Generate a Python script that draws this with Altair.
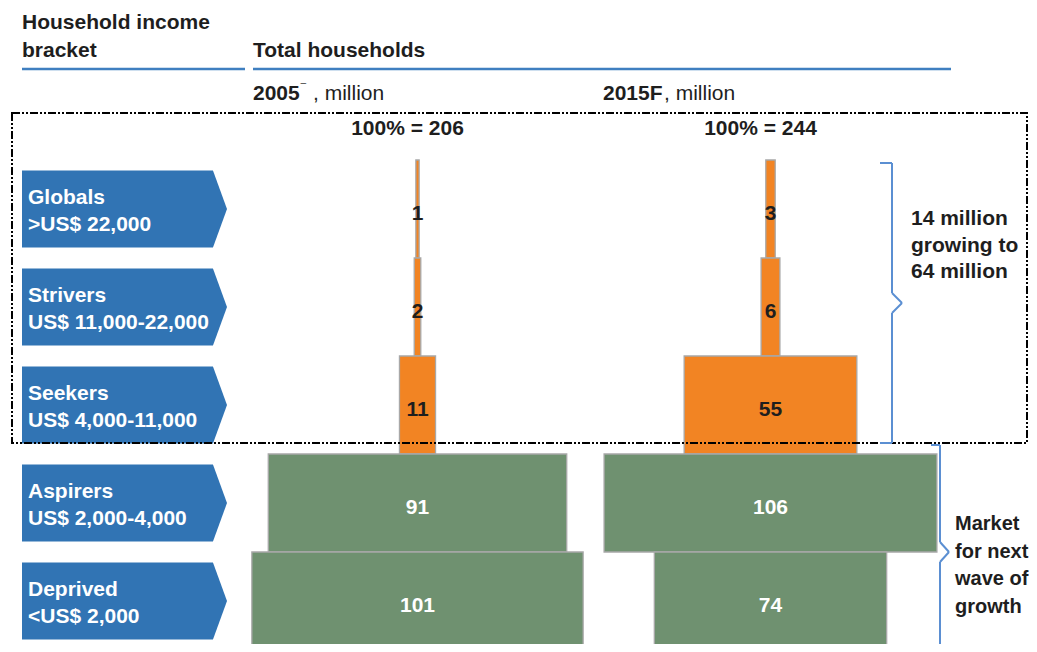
import altair as alt
import pandas as pd

# ---------------- data ----------------
brackets = ["Globals", "Strivers", "Seekers", "Aspirers", "Deprived"]
income_ranges = [">US$ 22,000", "US$ 11,000-22,000", "US$ 4,000-11,000",
                 "US$ 2,000-4,000", "<US$ 2,000"]
households_2005 = [1, 2, 11, 91, 101]
households_2015 = [3, 6, 55, 106, 74]
segment = ["upper", "upper", "upper", "mass", "mass"]

# ---------------- style / layout ----------------
FONT = "Liberation Sans"
FS = 21
DARK = "#1e1e1e"
ORANGE = "#f28423"
GREEN = "#6f9170"
BLUE = "#3174b4"
LINE_BLUE = "#3f7fc0"
BRACE_BLUE = "#5b8fd2"

W, H = 1021, 636
M = 8


def px(v):
    return v - M


ROW_TOP, ROW_H = 160, 98
d0 = -(ROW_TOP - M) / ROW_H
d1 = d0 + H / ROW_H
ysc = alt.Scale(domain=[d0, d1], reverse=True, zero=False, nice=False)

rows = pd.DataFrame({"bracket": brackets, "range": income_ranges,
                     "row": list(range(len(brackets))), "segment": segment})
one = pd.DataFrame({"k": [0]})


def column(values, center_page, px_per_unit):
    c = px(center_page)
    sc = alt.Scale(domain=[-c / px_per_unit, (W - c) / px_per_unit],
                   zero=False, nice=False)
    df = rows.assign(v=values)
    base = alt.Chart(df).transform_calculate(
        x0="-datum.v/2", x1="datum.v/2", top="datum.row",
        bot="datum.row+1", mid="datum.row+0.5", z="0")
    bars = base.mark_rect(stroke="#a8a8a8", strokeWidth=1.3).encode(
        x=alt.X("x0:Q", scale=sc, axis=None), x2="x1:Q",
        y=alt.Y("top:Q", scale=ysc, axis=None), y2="bot:Q",
        color=alt.Color("segment:N",
                        scale=alt.Scale(domain=["upper", "mass"],
                                        range=[ORANGE, GREEN]),
                        legend=None))
    labels = base.mark_text(font=FONT, fontSize=FS, fontWeight="bold",
                            baseline="alphabetic", dy=11).encode(
        x=alt.X("z:Q", scale=sc, axis=None),
        y=alt.Y("mid:Q", scale=ysc, axis=None),
        text="v:Q",
        color=alt.condition(alt.datum.segment == "mass",
                            alt.value("white"), alt.value(DARK)))
    total = alt.Chart(df).transform_aggregate(total="sum(v)").transform_calculate(
        lbl="'100% = ' + datum.total", z="0").mark_text(
        font=FONT, fontSize=FS, fontWeight="bold", baseline="alphabetic",
        color=DARK, dx=-10).encode(
        x=alt.X("z:Q", scale=sc, axis=None),
        y=alt.value(px(135)),
        text="lbl:N")
    return alt.layer(bars, labels, total)


col05 = column(households_2005, 417.5, 3.28)
col15 = column(households_2015, 770.5, 3.14)

# pentagon labels on the left
PENT = "M-1,-0.3756L0.863,-0.3756L1,0L0.863,0.3756L-1,0.3756Z"
rows_mid = alt.Chart(rows).transform_calculate(mid="datum.row+0.5")
pent = rows_mid.mark_point(shape=PENT, size=205 ** 2, filled=True,
                           fill=BLUE, opacity=1, strokeWidth=0).encode(
    x=alt.value(px(124.5)), y=alt.Y("mid:Q", scale=ysc, axis=None))
pent_name = rows_mid.mark_text(font=FONT, fontSize=FS, fontWeight="bold",
                               color="white", align="left",
                               baseline="alphabetic", dy=-5).encode(
    x=alt.value(px(28)), y=alt.Y("mid:Q", scale=ysc, axis=None),
    text="bracket:N")
pent_range = rows_mid.mark_text(font=FONT, fontSize=FS, fontWeight="bold",
                                color="white", align="left",
                                baseline="alphabetic", dy=22).encode(
    x=alt.value(px(28)), y=alt.Y("mid:Q", scale=ysc, axis=None),
    text="range:N")


def seg(x1, y1, x2, y2, color, width):
    return alt.Chart(one).mark_rule(color=color, strokeWidth=width).encode(
        x=alt.value(px(x1)), y=alt.value(px(y1)),
        x2=alt.value(px(x2)), y2=alt.value(px(y2)))


def txt(s, x, y, size=FS, bold=True, color=DARK, align="left", line_height=None):
    kw = dict(text=s, font=FONT, fontSize=size,
              fontWeight="bold" if bold else "normal", color=color,
              align=align, baseline="alphabetic")
    if line_height:
        kw.update(lineBreak="\n", lineHeight=line_height)
    return alt.Chart(one).mark_text(**kw).encode(
        x=alt.value(px(x)), y=alt.value(px(y)))


box = alt.Chart(one).mark_rect(fill="white", fillOpacity=0, stroke="black",
                               strokeWidth=2,
                               strokeDash=[8, 2, 2, 2, 2, 2]).encode(
    x=alt.value(px(12)), x2=alt.value(px(1027)),
    y=alt.value(px(113)), y2=alt.value(px(443)))

decor = [
    txt("Household income", 22, 29),
    txt("bracket", 22, 57),
    txt("Total households", 253, 57),
    seg(22, 69, 245, 69, LINE_BLUE, 2.5),
    seg(253, 69, 951, 69, LINE_BLUE, 2.5),
    txt("2005", 253, 100),
    txt("‾", 301, 95, size=14, bold=False, color="#555555"),
    txt(", million", 313, 100, bold=False),
    txt("2015F", 603, 100),
    txt(", million", 664, 100, bold=False),
    box,
    # upper brace
    seg(880, 163, 892, 163, BRACE_BLUE, 2),
    seg(892, 163, 892, 293, BRACE_BLUE, 2),
    seg(892, 293, 902, 303, BRACE_BLUE, 2),
    seg(902, 303, 892, 313, BRACE_BLUE, 2),
    seg(892, 313, 892, 443, BRACE_BLUE, 2),
    seg(880, 443, 892, 443, BRACE_BLUE, 2),
    # lower brace
    seg(931, 445, 940, 445, BRACE_BLUE, 2),
    seg(940, 445, 940, 542, BRACE_BLUE, 2),
    seg(940, 542, 949, 552, BRACE_BLUE, 2),
    seg(949, 552, 940, 562, BRACE_BLUE, 2),
    seg(940, 562, 940, 652, BRACE_BLUE, 2),
    txt("14 million\ngrowing to\n64 million", 911, 225, line_height=26.5),
    txt("Market\nfor next\nwave of\ngrowth", 955, 530, size=20, line_height=27.5),
]

chart = alt.layer(col05, col15, pent, pent_name, pent_range, *decor).resolve_scale(
    x="independent"
).properties(
    width=W, height=H,
    autosize=alt.AutoSizeParams(type="none"),
    padding=0,
    background="white",
).configure_view(stroke=None)

chart.save("out.html", embed_options={"renderer": "svg", "actions": False})
